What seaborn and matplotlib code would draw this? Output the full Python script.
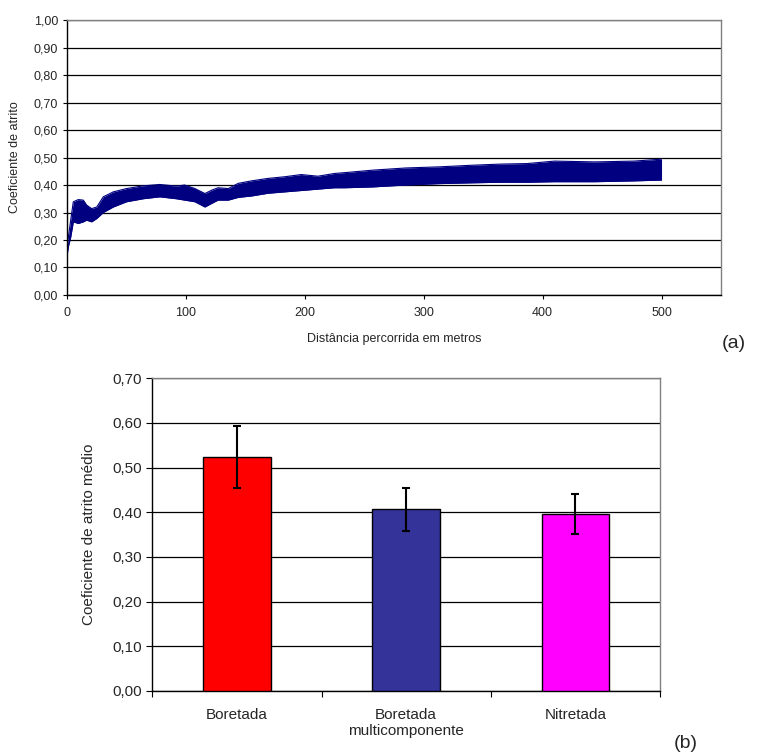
import numpy as np
import pandas as pd
import seaborn as sns
import matplotlib.pyplot as plt
from matplotlib.ticker import MultipleLocator, FuncFormatter

# -----------------------------
# Data
# -----------------------------
# (a) friction coefficient band vs distance (upper / lower envelope of the noisy trace)
distancia = [0, 1.1, 3.1, 5.3, 9.5, 13.7, 16.5, 20.7, 25, 30.5, 38.9, 50, 64, 78, 92,
             99, 107.6, 116, 121.6, 127, 135.6, 144, 155, 169, 183, 197, 211, 225,
             233.6, 257, 285, 313, 341, 364, 387, 410, 444, 477, 500]
atrito_sup = [0.15, 0.21, 0.272, 0.339, 0.347, 0.345, 0.327, 0.314, 0.32, 0.357, 0.375,
              0.387, 0.397, 0.402, 0.396, 0.40, 0.387, 0.369, 0.381, 0.39, 0.387, 0.406,
              0.415, 0.424, 0.43, 0.438, 0.432, 0.442, 0.445, 0.454, 0.462, 0.466,
              0.472, 0.476, 0.478, 0.487, 0.484, 0.487, 0.494]
atrito_inf = [0.14, 0.175, 0.21, 0.266, 0.26, 0.266, 0.272, 0.266, 0.278, 0.30, 0.32,
              0.339, 0.35, 0.357, 0.35, 0.345, 0.339, 0.32, 0.333, 0.345, 0.345, 0.355,
              0.36, 0.37, 0.375, 0.38, 0.385, 0.39, 0.39, 0.393, 0.40, 0.405, 0.408,
              0.41, 0.41, 0.412, 0.412, 0.415, 0.418]

# (b) mean friction coefficient per treatment
tratamentos = ["Boretada", "Boretada\nmulticomponente", "Nitretada"]
atrito_medio = [0.524, 0.407, 0.396]
desvio = [0.070, 0.048, 0.044]
cores = ["#FF0000", "#333399", "#FF00FF"]

# -----------------------------
# Style
# -----------------------------
sns.set_style("white")
plt.rcParams["font.family"] = ["Liberation Sans", "DejaVu Sans"]

fmt_virgula = FuncFormatter(lambda v, p: f"{v:.2f}".replace(".", ","))

fig = plt.figure(figsize=(7.64, 7.56), dpi=100)

# -----------------------------
# (a) line / band chart
# -----------------------------
ax1 = fig.add_axes([0.0877, 0.6098, 0.856, 0.3637])
df_a = pd.DataFrame({"x": distancia, "sup": atrito_sup, "inf": atrito_inf})
ax1.fill_between(df_a["x"], df_a["inf"], df_a["sup"], color="#000080", lw=0)
sns.lineplot(data=df_a, x="x", y="sup", ax=ax1, color="#000080", lw=0.8)
sns.lineplot(data=df_a, x="x", y="inf", ax=ax1, color="#000080", lw=0.8)

ax1.set_xlim(0, 550)
ax1.set_ylim(0, 1.0)
ax1.yaxis.set_major_locator(MultipleLocator(0.1))
ax1.xaxis.set_major_locator(MultipleLocator(100))
ax1.yaxis.set_major_formatter(fmt_virgula)
ax1.grid(axis="y", color="black", lw=0.9)
ax1.set_axisbelow(True)
ax1.set_xlabel("Distância percorrida em metros", fontsize=9, labelpad=10)
ax1.set_ylabel("Coeficiente de atrito", fontsize=9, labelpad=9)
ax1.tick_params(axis="both", labelsize=9, direction="out", length=3, width=0.8,
                color="black", left=True, bottom=True)
ax1.tick_params(axis="x", pad=6)
for s in ["left", "bottom"]:
    ax1.spines[s].set_color("black")
for s in ["top", "right"]:
    ax1.spines[s].set_color("#808080")
for s in ax1.spines.values():
    s.set_linewidth(1)

fig.text(0.976, 0.546, "(a)", fontsize=14, ha="right", va="center")

# -----------------------------
# (b) bar chart with error bars
# -----------------------------
ax2 = fig.add_axes([0.1994, 0.086, 0.6645, 0.4136])
df_b = pd.DataFrame({"trat": tratamentos, "media": atrito_medio})
sns.barplot(data=df_b, x="trat", y="media", hue="trat", palette=cores, width=0.4,
            saturation=1, edgecolor="black", linewidth=1, legend=False, ax=ax2,
            zorder=3)
ax2.errorbar(range(len(tratamentos)), atrito_medio, yerr=desvio, fmt="none",
             ecolor="black", elinewidth=1.5, capsize=3, capthick=1.5, zorder=4)

ax2.set_xlim(-0.5, 2.5)
ax2.set_ylim(0, 0.7)
ax2.yaxis.set_major_locator(MultipleLocator(0.1))
ax2.yaxis.set_major_formatter(fmt_virgula)
ax2.grid(axis="y", color="black", lw=0.9, zorder=0)
ax2.set_axisbelow(True)
ax2.set_xlabel("")
ax2.set_ylabel("Coeficiente de atrito médio", fontsize=11, labelpad=12)
ax2.set_xticks([-0.5, 0.5, 1.5, 2.5], minor=True)
ax2.tick_params(axis="x", which="major", length=0, labelsize=11, pad=12)
ax2.tick_params(axis="x", which="minor", length=4, width=0.8, color="black",
                direction="out", bottom=True)
ax2.tick_params(axis="y", labelsize=11, direction="out", length=4, width=0.8,
                color="black", left=True)
for s in ["left", "bottom"]:
    ax2.spines[s].set_color("black")
for s in ["top", "right"]:
    ax2.spines[s].set_color("#808080")
for s in ax2.spines.values():
    s.set_linewidth(1)

fig.text(0.897, 0.016, "(b)", fontsize=14, ha="center", va="center")

fig.savefig("out.png", dpi=100)
